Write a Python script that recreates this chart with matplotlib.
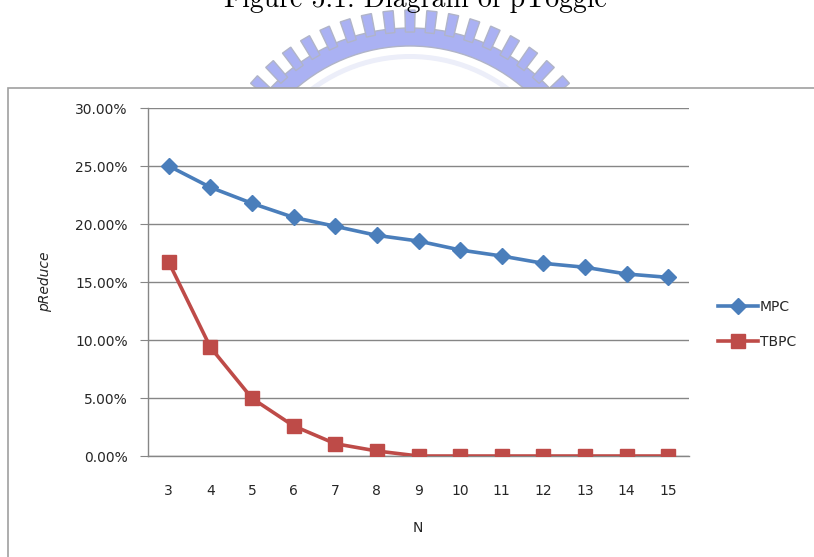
import numpy as np
import matplotlib
matplotlib.use('Agg')
import matplotlib.pyplot as plt
from matplotlib.patches import Polygon, Rectangle, Wedge

n_values = [3, 4, 5, 6, 7, 8, 9, 10, 11, 12, 13, 14, 15]
mpc = [25.0, 23.16, 21.78, 20.57, 19.8, 19.02, 18.53, 17.76, 17.24, 16.61, 16.27, 15.69, 15.4]
tbpc = [16.7, 9.37, 4.97, 2.59, 1.06, 0.43, 0.0, 0.0, 0.0, 0.0, 0.0, 0.0, 0.0]
y_ticks = [0, 5, 10, 15, 20, 25, 30]

caption = 'Figure 5.1: Diagram of pToggle'
text_color = '#262626'
grid_color = '#868686'
logo_fill = '#aab1f3'
logo_edge = '#b0b4c8'

fig = plt.figure(figsize=(8.14, 5.57), dpi=100)

# background layer in pixel coordinates: watermark logo + chart frame
bg = fig.add_axes([0, 0, 1, 1])
bg.set_xlim(0, 814)
bg.set_ylim(557, 0)
bg.axis('off')

cx, cy = 410, 220
bg.add_patch(Wedge((cx, cy), 192, 180, 360, width=18,
                   facecolor=logo_fill, edgecolor=logo_edge, lw=1))
bg.add_patch(Wedge((cx, cy), 166, 180, 360, width=5,
                   facecolor='#eceef9', edgecolor='none'))
for k in range(-10, 11):
    a = np.radians(90 + 6 * k)
    da = np.radians(1.4)
    r0, r1 = 188, 210
    pts = [(cx + r0 * np.cos(a - da), cy - r0 * np.sin(a - da)),
           (cx + r1 * np.cos(a - da), cy - r1 * np.sin(a - da)),
           (cx + r1 * np.cos(a + da), cy - r1 * np.sin(a + da)),
           (cx + r0 * np.cos(a + da), cy - r0 * np.sin(a + da))]
    bg.add_patch(Polygon(pts, closed=True, facecolor=logo_fill,
                         edgecolor=logo_edge, lw=1))

bg.add_patch(Rectangle((7.5, 87.5), 900, 600, facecolor='white',
                       edgecolor='#a0a0a0', lw=1.2))

fig.text(0.51, 1 - 7 / 557, caption, family='cmr10', fontsize=20,
         ha='center', va='baseline', color='black')

# chart
ax = fig.add_axes([148 / 814, 1 - 456 / 557, 541 / 814, 348 / 557])
ax.patch.set_alpha(0)

ax.plot(n_values, mpc, color='#4a7ebb', lw=2.6, marker='D', markersize=8.5,
        label='MPC', zorder=3)
ax.plot(n_values, tbpc, color='#be4b48', lw=2.6, marker='s', markersize=9.5,
        label='TBPC', zorder=3)

ax.set_xlim(2.5, 15.5)
ax.set_ylim(0, 30)
ax.set_xticks(n_values)
ax.set_xticklabels([str(n) for n in n_values])
ax.set_yticks(y_ticks)
ax.set_yticklabels(['%.2f%%' % v for v in y_ticks])
ax.yaxis.grid(True, color=grid_color, lw=1)
ax.set_axisbelow(True)

for s in ['top', 'right']:
    ax.spines[s].set_visible(False)
for s in ['left', 'bottom']:
    ax.spines[s].set_color(grid_color)
    ax.spines[s].set_linewidth(1)

ax.tick_params(axis='y', length=6, color=grid_color, pad=8.5,
               labelsize=10, labelcolor=text_color)
ax.tick_params(axis='x', length=0, pad=20, labelsize=10, labelcolor=text_color)

ax.set_xlabel('N', fontsize=10, color=text_color)
ax.xaxis.set_label_coords(0.499, -0.188)
ax.set_ylabel('pReduce', fontsize=10, style='italic', color=text_color)
ax.yaxis.set_label_coords(-0.177, 0.5)

ax.legend(loc='center left', bbox_to_anchor=(718 / 814, 1 - 324.5 / 557),
          bbox_transform=fig.transFigure, frameon=False, fontsize=10,
          handlelength=2.9, handletextpad=0.1, labelspacing=1.5, borderpad=0,
          borderaxespad=0, labelcolor=text_color)

fig.savefig('out.png', dpi=100)
